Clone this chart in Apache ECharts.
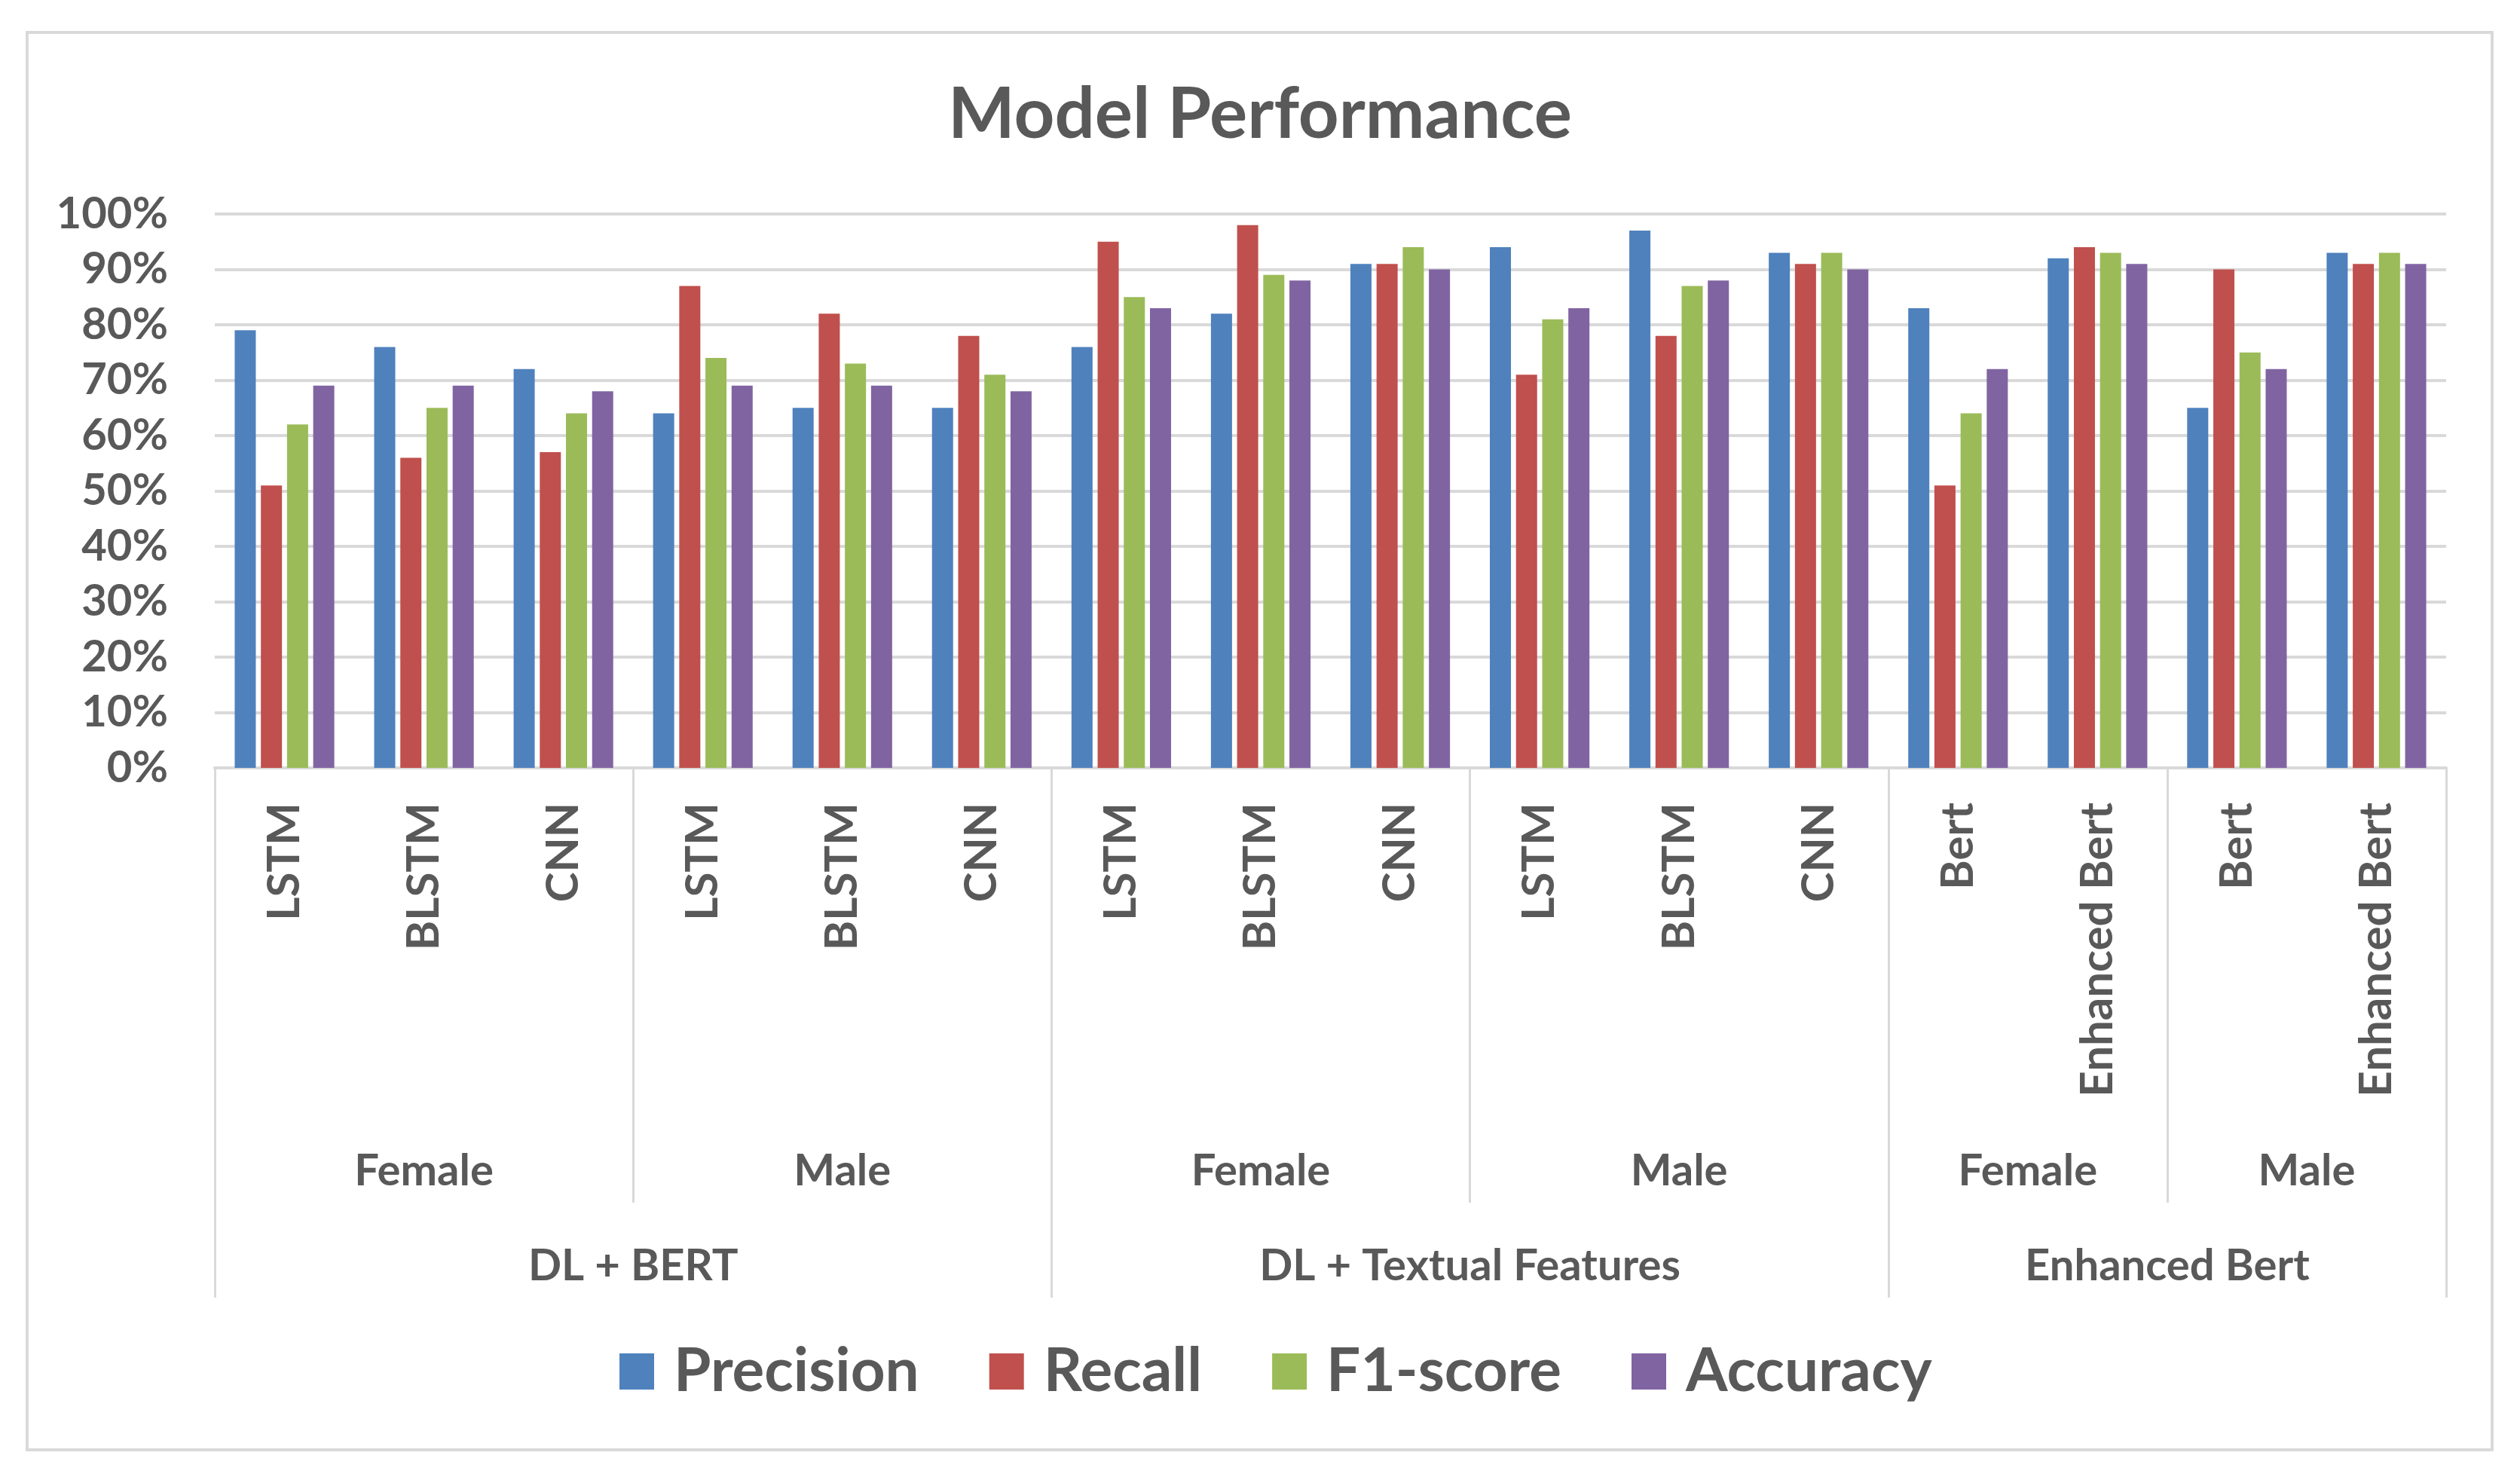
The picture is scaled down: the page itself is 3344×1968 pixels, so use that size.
<!DOCTYPE html>
<html>
<head>
<meta charset="utf-8">
<script src="https://cdn.jsdelivr.net/npm/echarts@6/dist/echarts.min.js"></script>
<style>
html,body{margin:0;padding:0;background:#fff;}
#chart{width:3344px;height:1968px;}
</style>
</head>
<body>
<div id="chart"></div>
<script>
const models = ['LSTM','BLSTM','CNN','LSTM','BLSTM','CNN','LSTM','BLSTM','CNN','LSTM','BLSTM','CNN','Bert','Enhanced Bert','Bert','Enhanced Bert'];
const genders = ['Female','Male','Female','Male','Female','Male'];
const genderSizes = [3,3,3,3,2,2];
const methods = ['DL + BERT','DL + Textual Features','Enhanced Bert'];
const methodSizes = [6,6,4];
const seriesNames = ['Precision','Recall','F1-score','Accuracy'];
const precision = [79,76,72,64,65,65,76,82,91,94,97,93,83,92,65,93];
const recall    = [51,56,57,87,82,78,95,98,91,71,78,91,51,94,90,91];
const f1score   = [62,65,64,74,73,71,85,89,94,81,87,93,64,93,75,93];
const accuracy  = [69,69,68,69,69,68,83,88,90,83,88,90,72,91,72,91];

const colors = ['#4F81BD','#C0504D','#9BBB59','#8064A2'];
const textColor = '#595959';
const gridColor = '#D9D9D9';
const font = 'Lato, "Open Sans", "Noto Sans", sans-serif';

function groupInfo(sizes){
  const centers=[], bounds=[0];
  let acc=0;
  sizes.forEach(s=>{centers.push(acc+s/2); acc+=s; bounds.push(acc);});
  return {centers, bounds};
}
const g2 = groupInfo(genderSizes);
const g3 = groupInfo(methodSizes);
const g3Bounds = g3.bounds.slice(0, -1); // last boundary is added by ECharts
const g2Bounds = g2.bounds.filter(b => g3.bounds.indexOf(b) < 0);

function labelAt(centers, names){
  return function(v){
    for(let i=0;i<centers.length;i++){ if(Math.abs(centers[i]-v)<1e-6) return names[i]; }
    return '';
  };
}

const chart = echarts.init(document.getElementById('chart'));
const data = [precision, recall, f1score, accuracy];

chart.setOption({
  backgroundColor:'#fff',
  animation:false,
  textStyle:{fontFamily:font},
  title:{
    text:'Model Performance', left:'center', top:101,
    textStyle:{fontSize:94, fontWeight:'bold', color:textColor, fontFamily:font}
  },
  graphic:[{type:'rect', shape:{x:36,y:43,width:3271,height:1881}, style:{fill:'none', stroke:'#D9D9D9', lineWidth:4}, silent:true}],
  legend:{
    data:seriesNames, top:1775, left:817, icon:'rect',
    itemWidth:46, itemHeight:48, itemGap:93,
    textStyle:{fontSize:80, fontWeight:'bold', color:textColor, fontFamily:font, padding:[0,0,0,21]}
  },
  grid:{left:285, right:98, top:284, bottom:949, containLabel:false},
  yAxis:{
    type:'value', min:0, max:100, interval:10,
    axisLabel:{formatter:'{value}%', fontSize:58, fontWeight:'bold', color:textColor, margin:62, fontFamily:font},
    axisLine:{show:false}, axisTick:{show:false},
    splitLine:{lineStyle:{color:gridColor, width:4}}
  },
  xAxis:[
    {
      type:'category', data:models, position:'bottom',
      axisLine:{lineStyle:{color:gridColor, width:4}},
      axisTick:{show:false},
      axisLabel:{rotate:90, interval:0, fontSize:60, fontWeight:'bold', color:textColor, margin:46, fontFamily:font}
    },
    {
      type:'category', data:models, position:'bottom',
      axisLine:{show:false}, axisLabel:{show:false},
      axisTick:{show:true, length:577, interval:function(i){return g2Bounds.indexOf(i)>=0;}, lineStyle:{color:gridColor, width:3}}
    },
    {
      type:'category', data:models, position:'bottom',
      axisLine:{show:false}, axisLabel:{show:false},
      axisTick:{show:true, length:703, interval:function(i){return g3Bounds.indexOf(i)>=0;}, lineStyle:{color:gridColor, width:3}}
    },
    {
      type:'value', min:0, max:models.length, interval:0.5, position:'bottom', offset:535,
      axisLine:{show:false}, axisTick:{show:false}, splitLine:{show:false},
      axisLabel:{formatter:labelAt(g2.centers, genders), margin:0, verticalAlign:'middle', fontSize:58, fontWeight:'bold', color:textColor, fontFamily:font, showMinLabel:true, showMaxLabel:true}
    },
    {
      type:'value', min:0, max:models.length, interval:0.5, position:'bottom', offset:661,
      axisLine:{show:false}, axisTick:{show:false}, splitLine:{show:false},
      axisLabel:{formatter:labelAt(g3.centers, methods), margin:0, verticalAlign:'middle', fontSize:58, fontWeight:'bold', color:textColor, fontFamily:font, showMinLabel:true, showMaxLabel:true}
    }
  ],
  series: seriesNames.map((n,i)=>({
    name:n, type:'bar', xAxisIndex:0, data:data[i], barWidth:28, barGap:'24%',
    itemStyle:{color:colors[i]}
  }))
});
</script>
</body>
</html>
